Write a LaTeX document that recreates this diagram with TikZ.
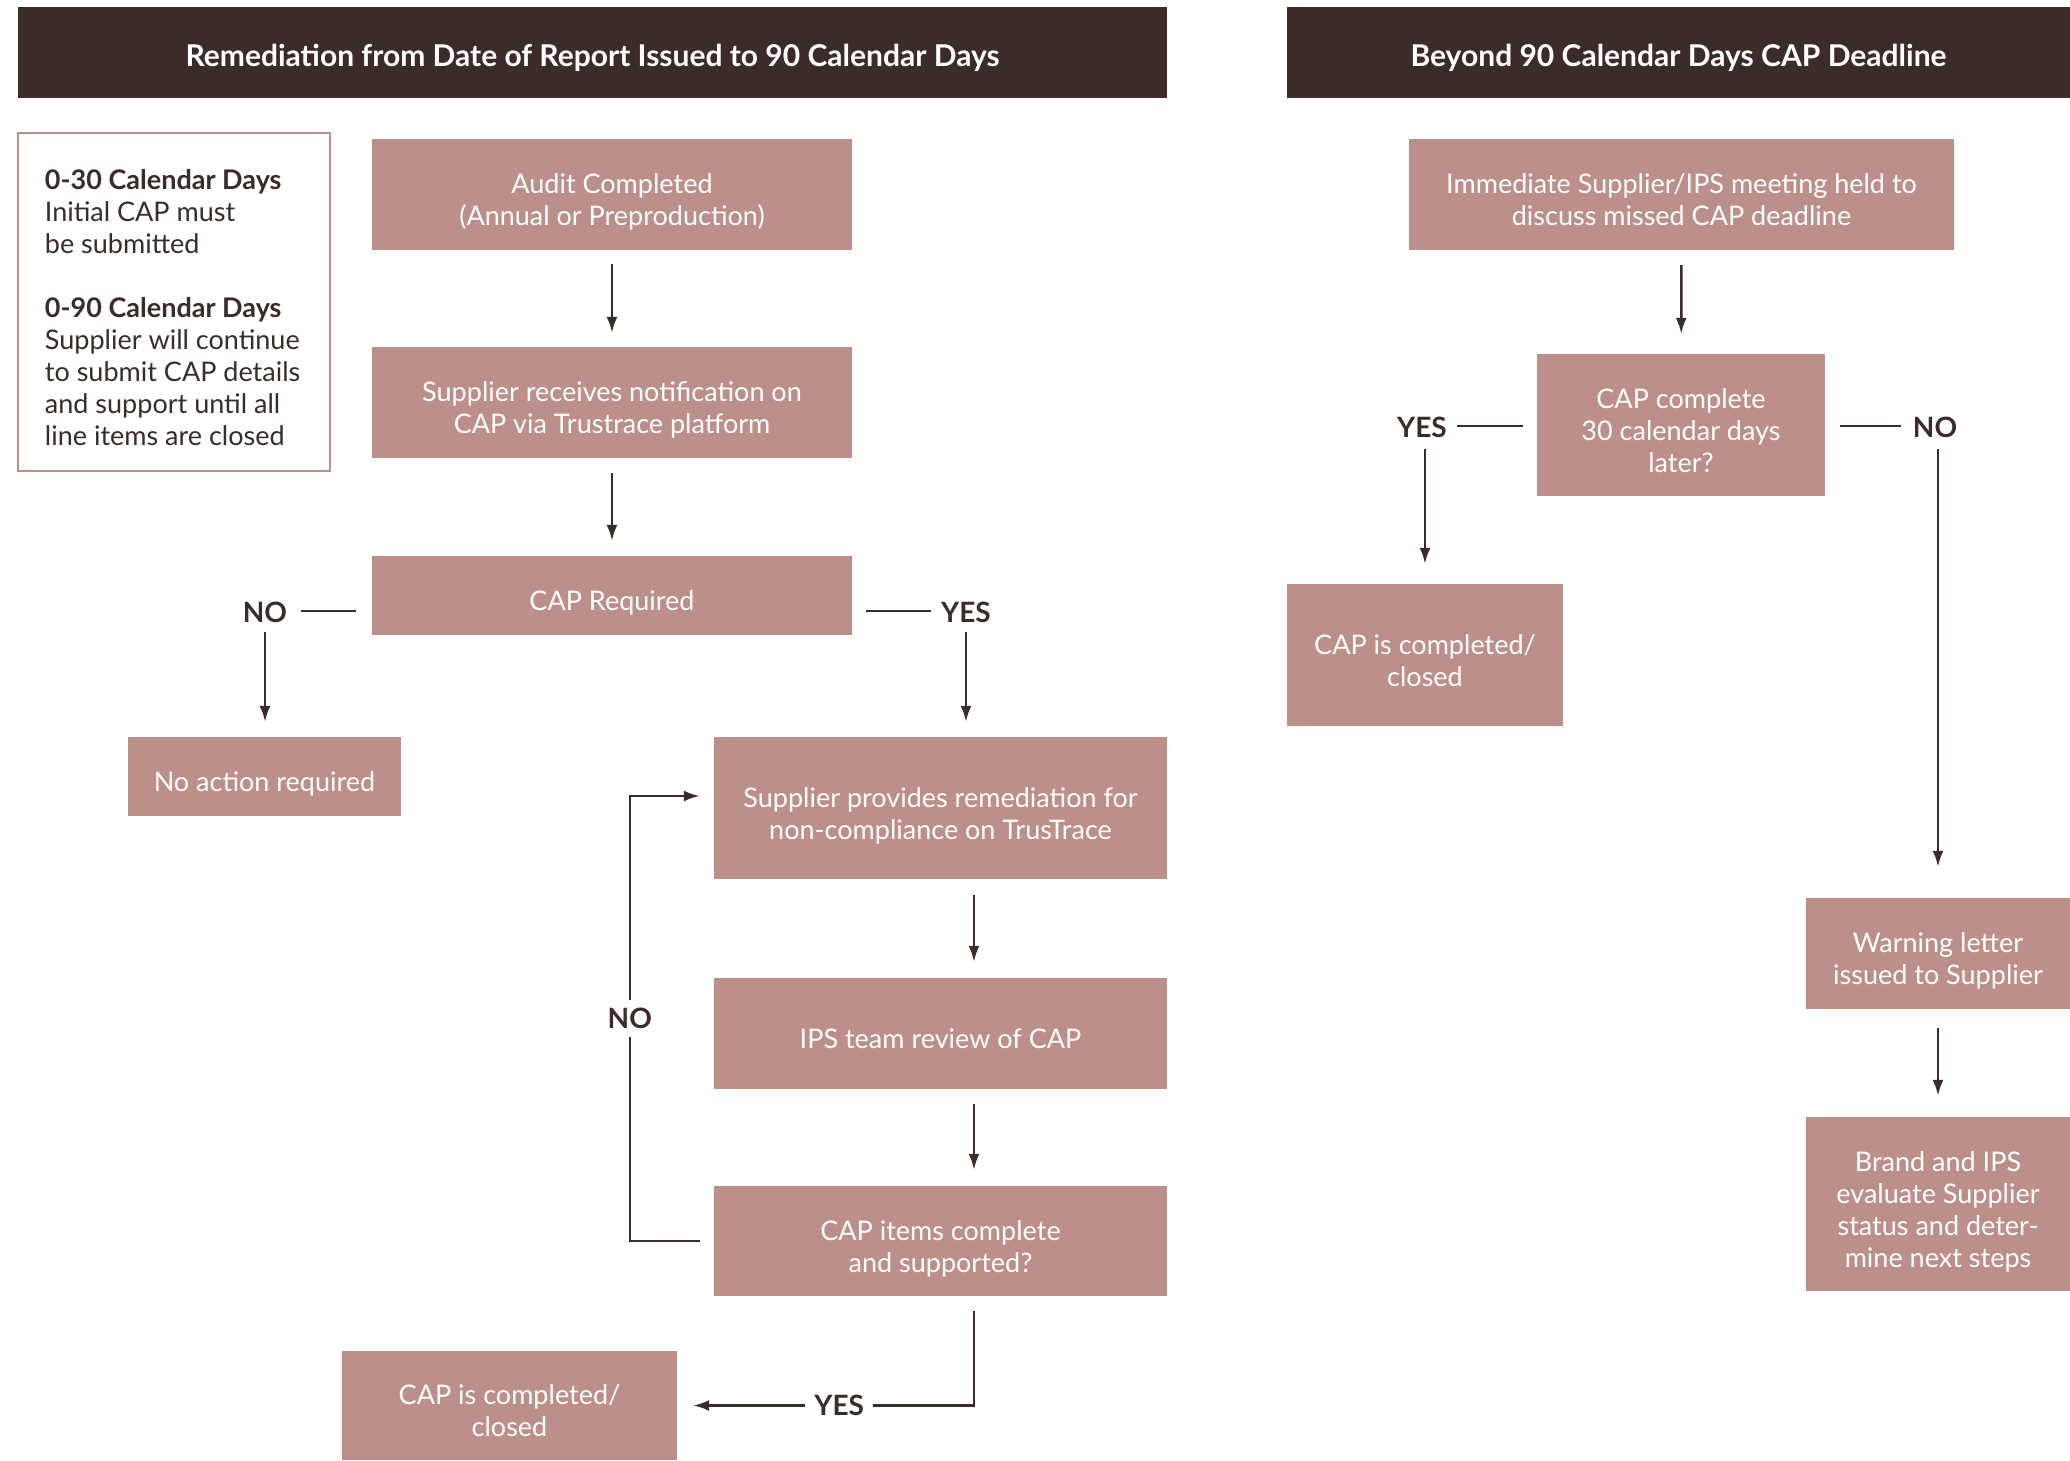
\documentclass[tikz,border=0pt]{standalone}
\usepackage{fontspec}
\setmainfont{Lato}
\usetikzlibrary{arrows.meta,calc}
\definecolor{dark}{HTML}{3B2C29}
\definecolor{rose}{HTML}{BD8F8A}
\newcommand{\tpst}{\rule{0pt}{36pt}}
\newcommand{\btst}{\rule[-6pt]{0pt}{0pt}}
\begin{document}
\begin{tikzpicture}[x=1pt,y=-1pt,
  box/.style={fill=rose, text=white, inner sep=0pt, align=center, font=\fontsize{27}{32}\selectfont},
  hdr/.style={fill=dark, text=white, inner sep=0pt, font=\bfseries\fontsize{30}{34}\selectfont,
              execute at begin node={\rule{0pt}{36pt}}, execute at end node={\rule[-8pt]{0pt}{0pt}}},
  lbl/.style={text=dark, inner sep=2pt, font=\bfseries\fontsize{28}{32}\selectfont},
  ln/.style={draw=dark, line width=2.5pt},
  arr/.style={ln, -{Latex[length=16pt,width=11pt]}},
]
\useasboundingbox (0,0) rectangle (2070,1460);

% headers
\node[hdr, minimum width=1149pt, minimum height=91pt] (hL) at (592.5,52.5) {Remediation from Date of Report Issued to 90 Calendar Days};
\node[hdr, minimum width=783pt, minimum height=91pt] (hR) at (1678.5,52.5) {Beyond 90 Calendar Days CAP Deadline};

% info box
\node[draw=rose, line width=2.5pt, fill=white, minimum width=312pt, minimum height=338pt] (info) at (174,302) {};
\node[anchor=west, text=dark, align=left, inner sep=0pt, font=\fontsize{27}{32}\selectfont] (infotxt)
  at ($(info.west)+(28,0)$)
  {\tpst\textbf{0-30 Calendar Days}\\ Initial CAP must\\ be submitted\\[32pt]
   \textbf{0-90 Calendar Days}\\ Supplier will continue\\ to submit CAP details\\ and support until all\\ line items are closed\btst};

% left column boxes
\node[box, minimum width=480pt, minimum height=111pt] (audit) at (612,194.5) {\tpst Audit Completed\\(Annual or Preproduction)\btst};
\node[box, minimum width=480pt, minimum height=111pt] (recv) at (612,402.5) {\tpst Supplier receives notification on\\CAP via Trustrace platform\btst};
\node[box, minimum width=480pt, minimum height=79pt] (capreq) at (612,595.5) {\tpst CAP Required\btst};
\node[box, minimum width=273pt, minimum height=79pt] (noact) at (264.5,776.5) {\tpst No action required\btst};
\node[box, minimum width=453pt, minimum height=142pt] (remed) at (940.5,808) {\tpst Supplier provides remediation for\\non-compliance on TrusTrace\btst};
\node[box, minimum width=453pt, minimum height=111pt] (ips) at (940.5,1033.5) {\tpst IPS team review of CAP\btst};
\node[box, minimum width=453pt, minimum height=110pt] (capitems) at (940.5,1241) {\tpst CAP items complete\\and supported?\btst};
\node[box, minimum width=335pt, minimum height=109pt] (closedL) at (509.5,1405.5) {\tpst CAP is completed/\\closed\btst};

% right column boxes
\node[box, minimum width=545pt, minimum height=111pt] (meet) at (1681.5,194.5) {\tpst Immediate Supplier/IPS meeting held to\\discuss missed CAP deadline\btst};
\node[box, minimum width=288pt, minimum height=142pt] (capc) at (1681,425) {\tpst CAP complete\\30 calendar days\\later?\btst};
\node[box, minimum width=276pt, minimum height=142pt] (closedR) at (1425,655) {\tpst CAP is completed/\\closed\btst};
\node[box, minimum width=264pt, minimum height=111pt] (warn) at (1938,953.5) {\tpst Warning letter\\issued to Supplier\btst};
\node[box, minimum width=264pt, minimum height=174pt] (brand) at (1938,1204) {\tpst Brand and IPS\\evaluate Supplier\\status and deter-\\mine next steps\btst};

% labels
\node[lbl] (noA) at (265,612) {NO};
\node[lbl] (yesA) at (966,612) {YES};
\node[lbl] (yesB) at (1422,427) {YES};
\node[lbl] (noC) at (1935,427) {NO};

% left connectors
\draw[arr, shorten <=14pt, shorten >=14pt] (audit) -- (recv);
\draw[arr, shorten <=15pt, shorten >=15pt] (recv) -- (capreq);
\draw[ln] ($(capreq.west |- noA.center)+(-16,-1)$) -- ($(capreq.west |- noA.center)+(-71,-1)$);
\draw[arr] ($(noA.center)+(0,20)$) -- ($(noA.center |- noact.north)+(0,-15)$);
\draw[ln] ($(capreq.east |- yesA.center)+(14,-1)$) -- ($(capreq.east |- yesA.center)+(79,-1)$);
\draw[arr] ($(yesA.center)+(0,20)$) -- ($(yesA.center |- remed.north)+(0,-15)$);
\draw[arr, shorten <=16pt, shorten >=16pt] ([xshift=33.5pt]remed.south) -- ([xshift=33.5pt]ips.north);
\draw[arr, shorten <=15pt, shorten >=16pt] ([xshift=33.5pt]ips.south) -- ([xshift=33.5pt]capitems.north);
\draw[arr] ([xshift=-14pt]capitems.west) -- ++(-70,0)
   |- node[pos=0.25, lbl, fill=white, inner ysep=8pt] {NO} ([xshift=-14pt, yshift=12pt]remed.west);
\draw[arr] ([xshift=33.5pt, yshift=-15pt]capitems.south)
   |- node[pos=0.74, lbl, fill=white, inner xsep=9pt] {YES} ([xshift=16pt]closedL.east);

% right connectors
\draw[arr, shorten <=15pt, shorten >=20pt] (meet) -- (capc);
\draw[ln] ($(capc.west |- yesB.center)+(-14,-1)$) -- ($(capc.west |- yesB.center)+(-80,-1)$);
\draw[arr] ($(yesB.center -| closedR.north)+(0,22)$) -- ($(closedR.north)+(0,-20)$);
\draw[ln] ($(capc.east |- noC.center)+(15,-1)$) -- ($(capc.east |- noC.center)+(76,-1)$);
\draw[arr] ($(noC.center -| warn.north)+(0,22)$) -- ($(warn.north)+(0,-31)$);
\draw[arr, shorten <=19pt, shorten >=21pt] (warn) -- (brand);
\end{tikzpicture}
\end{document}
